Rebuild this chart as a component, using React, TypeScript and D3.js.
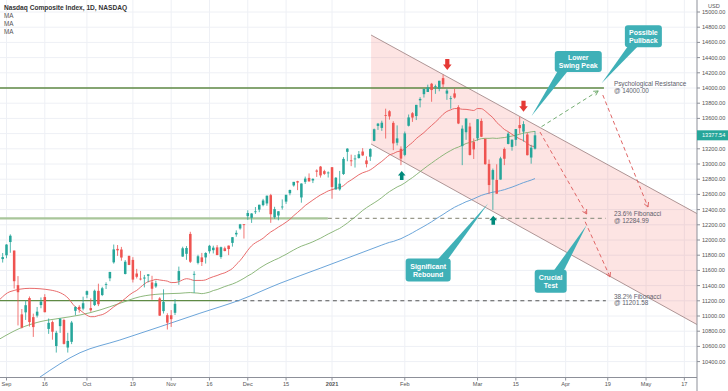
import React, { useEffect, useRef } from "react";
import * as d3 from "d3";

// bar 0 = 31 Aug 2020 ... bar 139 = 22 Mar 2021 (daily, trading days only)
const opens = [
  11749, 11799, 11973, 11861, 11406, 11021, 11048, 11236, 10985, 11005, 11144, 11249, 10830, 10920, 10605, 10867,
  10947, 10585, 10660, 11068, 11120, 11097, 11279, 11104, 11144, 11331, 11276, 11419, 11496, 11706, 11883, 11875,
  11553, 11791, 11738, 11559, 11492, 11493, 11529, 11442, 11389, 11231, 11064, 11011, 11010, 11042, 11467, 11782,
  11818, 12080, 11543, 11699, 11771, 11771, 11852, 11866, 11903, 11777, 11891, 11926, 11962, 12074, 12152, 12207,
  12314, 12292, 12367, 12400, 12459, 12481, 12590, 12299, 12322, 12434, 12505, 12615, 12718, 12774, 12560, 12765,
  12817, 12783, 12914, 12966, 12906, 12878, 12958, 12665, 12666, 12868, 13160, 13048, 13066, 13078, 13164, 13047,
  13096, 13305, 13501, 13475, 13643, 13694, 13541, 13280, 13200, 13120, 13503, 13668, 13631, 13838, 13919, 13948,
  14056, 14022, 13989, 14130, 13926, 13856, 13929, 13749, 13235, 13418, 13493, 13289, 13338, 13567, 13332, 13001,
  12795, 12790, 12795, 13198, 13264, 13225, 13318, 13513, 13426, 13388, 13085, 13201,
];
const highs = [
  11829, 11945, 12074, 11861, 11525, 11092, 11203, 11257, 11031, 11119, 11244, 11287, 10967, 10940, 10805, 10973,
  10964, 10779, 10935, 11127, 11142, 11254, 11336, 11232, 11347, 11425, 11384, 11443, 11580, 11940, 11934, 11909,
  11736, 11794, 11774, 11620, 11593, 11540, 11548, 11529, 11466, 11248, 11351, 11036, 11078, 11222, 11650, 11912,
  11920, 12108, 11589, 11806, 11830, 11839, 11936, 11925, 11933, 11913, 11913, 11927, 12037, 12127, 12212, 12208,
  12391, 12353, 12434, 12464, 12541, 12584, 12607, 12437, 12378, 12534, 12595, 12663, 12764, 12779, 12745, 12834,
  12876, 12810, 12930, 12974, 12924, 12902, 12958, 12828, 12909, 13090, 13208, 13123, 13119, 13171, 13209, 13101,
  13207, 13466, 13540, 13570, 13728, 13708, 13563, 13508, 13232, 13427, 13651, 13683, 13778, 13879, 13988, 14044,
  14067, 14044, 14095, 14175, 13988, 13896, 13992, 13773, 13508, 13603, 13542, 13336, 13591, 13599, 13332, 13059,
  12940, 12996, 13095, 13217, 13420, 13322, 13460, 13621, 13563, 13412, 13253, 13433,
];
const lows = [
  11703, 11760, 11832, 11361, 10876, 10837, 10948, 10861, 10725, 10980, 11102, 11048, 10765, 10688, 10519, 10778,
  10625, 10519, 10630, 11010, 11044, 11074, 11234, 11055, 11131, 11130, 11262, 11355, 11458, 11689, 11791, 11727,
  11547, 11669, 11441, 11494, 11469, 11376, 11442, 11214, 11370, 11000, 11033, 10822, 10856, 11013, 11410, 11779,
  11739, 11698, 11303, 11679, 11658, 11690, 11822, 11823, 11800, 11753, 11851, 11801, 11913, 12043, 12136, 12019,
  12265, 12225, 12343, 12366, 12443, 12451, 12226, 12279, 12259, 12400, 12475, 12588, 12702, 12656, 12491, 12738,
  12769, 12749, 12830, 12821, 12857, 12822, 12543, 12665, 12649, 12856, 13036, 12972, 12953, 13071, 13104, 12955,
  13040, 13300, 13449, 13436, 13335, 13584, 13182, 13245, 12985, 13102, 13494, 13554, 13578, 13745, 13874, 13947,
  13819, 13923, 13957, 14005, 13844, 13727, 13860, 13525, 12985, 13318, 13111, 13066, 13307, 13357, 12990, 12607,
  12397, 12609, 12795, 12985, 13259, 13175, 13238, 13399, 13294, 13113, 13004, 13190,
];
const closes = [
  11775, 11940, 12056, 11458, 11313, 10848, 11142, 10920, 10854, 11057, 11190, 11050, 10910, 10793, 10779, 10964,
  10633, 10672, 10914, 11118, 11085, 11168, 11327, 11075, 11332, 11155, 11365, 11421, 11580, 11876, 11864, 11769,
  11714, 11672, 11479, 11516, 11485, 11506, 11548, 11359, 11431, 11005, 11186, 10912, 10958, 11161, 11591, 11891,
  11895, 11714, 11554, 11786, 11710, 11829, 11924, 11899, 11802, 11905, 11855, 11881, 12037, 12094, 12206, 12199,
  12355, 12349, 12377, 12464, 12520, 12583, 12339, 12406, 12378, 12440, 12595, 12658, 12765, 12756, 12743, 12808,
  12771, 12805, 12899, 12850, 12870, 12888, 12698, 12819, 12741, 13067, 13202, 13036, 13072, 13129, 13113, 12999,
  13197, 13457, 13531, 13543, 13636, 13626, 13271, 13337, 13071, 13403, 13613, 13611, 13778, 13856, 13988, 14008,
  13973, 14026, 14095, 14048, 13966, 13865, 13874, 13533, 13465, 13598, 13119, 13192, 13589, 13359, 12998, 12723,
  12920, 12609, 13074, 13069, 13399, 13320, 13460, 13472, 13525, 13116, 13215, 13377.54,
];

// early parts of the moving averages (before enough bars exist)
const ma20Lead = [[-0.7, 11220], [1.9, 11320], [7.1, 11364], [12.4, 11342], [16.7, 11254]];
const ma50Lead = [[-0.7, 10700], [4.5, 10838], [9.75, 10925], [15, 10970], [20.2, 11013], [25.4, 11079],
  [30.6, 11167], [35.9, 11254], [41.1, 11289], [46.3, 11299]];
const ma100Lead = [[9.7, 10195], [20.2, 10517], [30.6, 10684], [41.1, 10859], [51.5, 11036], [62, 11211],
  [72.4, 11430], [82.9, 11628], [93.3, 11825]];

const xTickBars = [1, 11, 22, 34, 44, 54, 64, 74, 86, 105, 124, 134, 147, 158, 168, 178];
const xTickLabels = ["Sep", "16", "Oct", "19", "Nov", "16", "Dec", "15", "2021", "Feb", "Mar", "15", "Apr", "19", "May", "17"];
const yTicks = d3.range(10400, 15001, 200);

// drawings, in (bar, price)
const channelUpper = [[96.2, 14697], [181.5, 12342]];
const channelLower = [[96.2, 13263], [181.5, 10882]];

const levelPrices = [14000, 12284.99, 11201.58];
const levelSolidTo = [157, 84.9, 58.8];
const levelEnd = [157, 157.5, 157.5];
const levelLabels = [["Psychological Resistance", "@ 14000.00"], ["23.6% Fibonacci", "@ 12284.99"], ["38.2% Fibonacci", "@ 11201.58"]];
const levelLabelBar = 159.6;

const redArrows = [[116.1, 14237], [136.0, 13688]];
const tealArrows = [[104.2, 12908], [128.1, 12320]];

const greenPaths = [[[140.7, 13491], [155.5, 13961]]];
const redPaths = [
  [[156.7, 13908], [168.5, 12434]],
  [[140.3, 13421], [152.5, 12342]],
  [[152.1, 12240], [158.6, 11513]],
];

const callouts = [
  { lines: ["Lower", "Swing Peak"], at: [150.3, 14349], w: 47, h: 21, tip: [138.1, 13632] },
  { lines: ["Possible", "Pullback"], at: [167.3, 14682], w: 37, h: 22, tip: [156.4, 14062] },
  { lines: ["Significant", "Rebound"], at: [111.1, 11605], w: 45, h: 23, tip: [126.8, 12483] },
  { lines: ["Crucial", "Test"], at: [143.1, 11457], w: 32, h: 23, tip: [152.5, 12197] },
];

const lastPrice = 13377.54;

const W = 728;
const H = 391;
const FONT = "'Liberation Sans', Arial, sans-serif";
const UP = "#26a69a";
const DOWN = "#ef5350";

function maLine(lead: number[][], n: number) {
  const pts: [number, number][] = lead.map((d) => [d[0], d[1]]);
  for (let i = n - 1; i < closes.length; i++) {
    pts.push([i, d3.mean(closes.slice(i - n + 1, i + 1)) as number]);
  }
  return pts;
}

const App: React.FC = () => {
  const svgRef = useRef<SVGSVGElement>(null);

  useEffect(() => {
    if (!svgRef.current) return;
    const svg = d3.select(svgRef.current);
    svg.selectAll("*").remove();

    const plotR = 697;
    const plotB = 377.5;

    const x = d3.scaleLinear().domain([0, 139]).range([2.67, 535]);
    const y = d3.scaleLinear().domain([10400, 15000]).range([361.6, 12]);

    svg.append("rect").attr("width", W).attr("height", H).attr("fill", "#fff");

    svg.append("defs").append("clipPath").attr("id", "plot")
      .append("rect").attr("x", 0).attr("y", 0).attr("width", plotR).attr("height", plotB);

    // grid
    const grid = svg.append("g").attr("stroke", "#eef0f5").attr("stroke-width", 1);
    yTicks.forEach((t) => {
      grid.append("line").attr("x1", 0).attr("x2", plotR).attr("y1", y(t)).attr("y2", y(t));
    });
    xTickBars.forEach((b) => {
      grid.append("line").attr("x1", x(b)).attr("x2", x(b)).attr("y1", 0).attr("y2", plotB);
    });

    const plot = svg.append("g").attr("clip-path", "url(#plot)");

    // channel
    const poly = [channelUpper[0], channelUpper[1], channelLower[1], channelLower[0]]
      .map((d) => `${x(d[0])},${y(d[1])}`).join(" ");
    plot.append("polygon").attr("points", poly).attr("fill", "rgba(244,67,54,0.14)");
    [channelUpper, channelLower].forEach((c) => {
      plot.append("line")
        .attr("x1", x(c[0][0])).attr("y1", y(c[0][1]))
        .attr("x2", x(c[1][0])).attr("y2", y(c[1][1]))
        .attr("stroke", "#a58a8a").attr("stroke-width", 0.9);
    });

    // horizontal levels
    const solidColors = ["#5f8a45", "#a9c69a", "#5f8a45"];
    const solidWidths = [1.3, 2.2, 1.3];
    const dashColors = ["#5f8a45", "#9a9a8c", "#555"];
    levelPrices.forEach((p, k) => {
      plot.append("line")
        .attr("x1", 0).attr("x2", x(levelSolidTo[k]))
        .attr("y1", y(p)).attr("y2", y(p))
        .attr("stroke", solidColors[k]).attr("stroke-width", solidWidths[k]);
      if (levelEnd[k] > levelSolidTo[k]) {
        plot.append("line")
          .attr("x1", x(levelSolidTo[k])).attr("x2", x(levelEnd[k]))
          .attr("y1", y(p)).attr("y2", y(p))
          .attr("stroke", dashColors[k]).attr("stroke-width", 1.1)
          .attr("stroke-dasharray", "4 3.5");
      }
      const tx = plot.append("text")
        .attr("x", x(levelLabelBar)).attr("y", y(p) - 2)
        .attr("font-family", FONT).attr("font-size", 6.4).attr("fill", "#5d606b");
      tx.append("tspan").attr("x", x(levelLabelBar)).text(levelLabels[k][0]);
      tx.append("tspan").attr("x", x(levelLabelBar)).attr("dy", 6.6).text(levelLabels[k][1]);
    });

    // moving averages
    const line = d3.line<[number, number]>()
      .x((d) => x(d[0])).y((d) => y(d[1]))
      .curve(d3.curveMonotoneX);
    [
      { pts: maLine(ma100Lead, 100), color: "#5b9bd5" },
      { pts: maLine(ma50Lead, 50), color: "#81b06e" },
      { pts: maLine(ma20Lead, 20), color: "#e55b5b" },
    ].forEach((m) => {
      plot.append("path").attr("d", line(m.pts)).attr("fill", "none")
        .attr("stroke", m.color).attr("stroke-width", 0.9);
    });

    // candles
    const bw = (x(1) - x(0)) * 0.66;
    const candles = plot.append("g");
    closes.forEach((c, i) => {
      const o = opens[i];
      const col = c >= o ? UP : DOWN;
      candles.append("line")
        .attr("x1", x(i)).attr("x2", x(i))
        .attr("y1", y(highs[i])).attr("y2", y(lows[i]))
        .attr("stroke", col).attr("stroke-width", 0.8);
      const top = y(Math.max(o, c));
      const bot = y(Math.min(o, c));
      candles.append("rect")
        .attr("x", x(i) - bw / 2).attr("y", top)
        .attr("width", bw).attr("height", Math.max(0.8, bot - top))
        .attr("fill", col);
    });

    // projections
    const arrowHead = (g: any, p0: number[], p1: number[], color: string) => {
      const x0 = x(p0[0]), y0 = y(p0[1]), x1 = x(p1[0]), y1 = y(p1[1]);
      const a = Math.atan2(y1 - y0, x1 - x0);
      const len = 5;
      [0.5, -0.5].forEach((da) => {
        g.append("line")
          .attr("x1", x1).attr("y1", y1)
          .attr("x2", x1 - len * Math.cos(a + da)).attr("y2", y1 - len * Math.sin(a + da))
          .attr("stroke", color).attr("stroke-width", 1);
      });
    };
    const drawPaths = (paths: number[][][], color: string) => {
      paths.forEach((p) => {
        plot.append("line")
          .attr("x1", x(p[0][0])).attr("y1", y(p[0][1]))
          .attr("x2", x(p[1][0])).attr("y2", y(p[1][1]))
          .attr("stroke", color).attr("stroke-width", 1)
          .attr("stroke-dasharray", "4 3");
        arrowHead(plot, p[0], p[1], color);
      });
    };
    drawPaths(greenPaths, "#74ad72");
    drawPaths(redPaths, "#e06666");

    // block arrows
    redArrows.forEach((d) => {
      const cx = x(d[0]), ty = y(d[1]);
      const pts = [
        [cx - 2.1, ty - 11], [cx + 2.1, ty - 11], [cx + 2.1, ty - 5.5], [cx + 4.3, ty - 5.5],
        [cx, ty], [cx - 4.3, ty - 5.5], [cx - 2.1, ty - 5.5],
      ];
      plot.append("polygon").attr("points", pts.map((p) => p.join(",")).join(" ")).attr("fill", "#e53935");
    });
    tealArrows.forEach((d) => {
      const cx = x(d[0]), ty = y(d[1]);
      const pts = [
        [cx, ty], [cx + 3.8, ty + 4.5], [cx + 1.8, ty + 4.5], [cx + 1.8, ty + 9],
        [cx - 1.8, ty + 9], [cx - 1.8, ty + 4.5], [cx - 3.8, ty + 4.5],
      ];
      plot.append("polygon").attr("points", pts.map((p) => p.join(",")).join(" ")).attr("fill", "#00897b");
    });

    // callouts
    callouts.forEach((c) => {
      const cx = x(c.at[0]), cy = y(c.at[1]);
      const l = cx - c.w / 2, r = cx + c.w / 2, t = cy - c.h / 2, b = cy + c.h / 2;
      const tx = x(c.tip[0]), ty = y(c.tip[1]);
      const ey = ty > cy ? b - 1 : t + 1;
      const bx = Math.min(Math.max(tx, l + 8), r - 8);
      plot.append("polygon")
        .attr("points", `${bx - 5},${ey} ${bx + 5},${ey} ${tx},${ty}`)
        .attr("fill", "#3fb0b7");
      plot.append("rect")
        .attr("x", l).attr("y", t).attr("width", c.w).attr("height", c.h)
        .attr("rx", 3).attr("fill", "#3fb0b7");
      c.lines.forEach((s, k) => {
        plot.append("text")
          .attr("x", cx).attr("y", cy + (k - 0.5) * 8 + 2.5)
          .attr("text-anchor", "middle")
          .attr("font-family", FONT).attr("font-size", 7).attr("font-weight", 600)
          .attr("fill", "#fff").text(s);
      });
    });

    // axes
    svg.append("line").attr("x1", plotR).attr("x2", plotR).attr("y1", 0).attr("y2", H)
      .attr("stroke", "#8d9099").attr("stroke-width", 1);
    svg.append("line").attr("x1", 0).attr("x2", plotR).attr("y1", plotB).attr("y2", plotB)
      .attr("stroke", "#8d9099").attr("stroke-width", 1);

    yTicks.forEach((t) => {
      svg.append("line").attr("x1", plotR).attr("x2", plotR + 3).attr("y1", y(t)).attr("y2", y(t))
        .attr("stroke", "#8d9099");
      // the last-price tag covers the label nearest to it
      if (Math.abs(y(t) - y(lastPrice)) < 8) return;
      svg.append("text").attr("x", plotR + 5).attr("y", y(t) + 2)
        .attr("font-family", FONT).attr("font-size", 5.6).attr("fill", "#555")
        .text(d3.format(".2f")(t));
    });
    svg.append("text").attr("x", plotR + 11).attr("y", 8)
      .attr("font-family", FONT).attr("font-size", 5.6).attr("fill", "#555").text("USD");

    xTickBars.forEach((b, k) => {
      svg.append("line").attr("x1", x(b)).attr("x2", x(b)).attr("y1", plotB).attr("y2", plotB + 3)
        .attr("stroke", "#8d9099");
      svg.append("text").attr("x", x(b)).attr("y", 386)
        .attr("text-anchor", "middle")
        .attr("font-family", FONT).attr("font-size", 5.6)
        .attr("font-weight", xTickLabels[k] === "2021" ? 700 : 400)
        .attr("fill", "#555").text(xTickLabels[k]);
    });

    // last price tag
    svg.append("rect").attr("x", plotR).attr("y", y(lastPrice) - 5).attr("width", W - plotR).attr("height", 10)
      .attr("fill", UP);
    svg.append("text").attr("x", plotR + 5).attr("y", y(lastPrice) + 2)
      .attr("font-family", FONT).attr("font-size", 5.6).attr("fill", "#fff")
      .text(d3.format(".2f")(lastPrice));

    // legend
    svg.append("text").attr("x", 4).attr("y", 9.5)
      .attr("font-family", FONT).attr("font-size", 6.6).attr("font-weight", 700).attr("fill", "#333")
      .text("Nasdaq Composite Index, 1D, NASDAQ");
    [17.5, 25.5, 33.5].forEach((ly) => {
      svg.append("text").attr("x", 4).attr("y", ly)
        .attr("font-family", FONT).attr("font-size", 6.3).attr("fill", "#555").text("MA");
    });
  }, []);

  return (
    <svg
      ref={svgRef}
      width={W}
      height={H}
      style={{ position: "absolute", left: 0, top: 0, display: "block" }}
    />
  );
};

export default App;
